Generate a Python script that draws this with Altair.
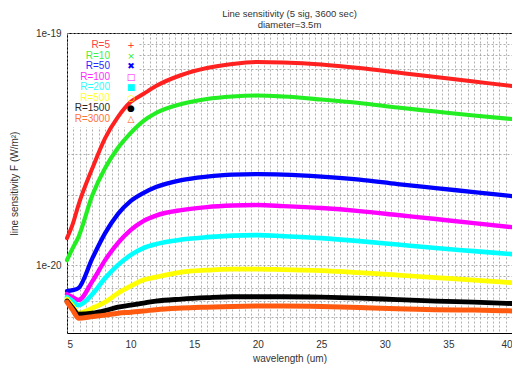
import altair as alt
import pandas as pd

# wavelength samples (um)
wl = [5, 5.45, 5.9, 7, 8, 9, 10, 11, 12, 14, 16, 18, 20, 22, 25, 28, 31, 34, 37, 40]

# line sensitivity, in units of 1e-20 W/m^2
r5 = [1.307, 1.502, 1.814, 2.619, 3.527, 4.344, 5.042, 5.459, 5.910, 6.592, 7.065, 7.351, 7.499, 7.462, 7.315, 7.065, 6.757, 6.461, 6.179, 5.910]
r10 = [1.051, 1.184, 1.320, 2.003, 2.619, 3.194, 3.706, 4.175, 4.520, 4.943, 5.194, 5.325, 5.378, 5.325, 5.169, 4.992, 4.774, 4.588, 4.410, 4.259]
r50 = [0.773, 0.780, 0.796, 1.072, 1.374, 1.659, 1.887, 2.043, 2.169, 2.325, 2.407, 2.455, 2.467, 2.455, 2.407, 2.336, 2.234, 2.147, 2.064, 1.983]
r100 = [0.750, 0.728, 0.707, 0.853, 1.051, 1.244, 1.415, 1.548, 1.635, 1.726, 1.778, 1.805, 1.814, 1.796, 1.761, 1.709, 1.643, 1.579, 1.517, 1.458]
r200 = [0.728, 0.700, 0.672, 0.750, 0.879, 1.000, 1.104, 1.184, 1.232, 1.288, 1.320, 1.340, 1.347, 1.333, 1.307, 1.269, 1.226, 1.184, 1.149, 1.115]
r500 = [0.714, 0.666, 0.621, 0.653, 0.693, 0.757, 0.812, 0.862, 0.888, 0.933, 0.951, 0.961, 0.961, 0.956, 0.947, 0.928, 0.906, 0.883, 0.862, 0.840]
r1500 = [0.700, 0.653, 0.615, 0.621, 0.637, 0.659, 0.672, 0.686, 0.700, 0.714, 0.724, 0.731, 0.731, 0.731, 0.728, 0.721, 0.710, 0.700, 0.693, 0.683]
r3000 = [0.693, 0.640, 0.591, 0.600, 0.609, 0.621, 0.627, 0.634, 0.643, 0.653, 0.659, 0.664, 0.666, 0.666, 0.663, 0.656, 0.649, 0.643, 0.640, 0.635]

series = ["R=5", "R=10", "R=50", "R=100", "R=200", "R=500", "R=1500", "R=3000"]
values = [r5, r10, r50, r100, r200, r500, r1500, r3000]
symbols = ["+", "\u00d7", "\u2716", "\u25a1", "\u25a0", "\u25cb", "\u25cf", "\u25b3"]

colors = ["#ff2020", "#22ee22", "#0000ff", "#ff00ff", "#00ffff", "#ffff00", "#000000", "#ff5a10"]
widths = [4, 5, 7, 6, 6, 6, 6, 5]

x_ticks = [5 + 0.5 * i for i in range(71)]
y_ticks = [6e-21, 7e-21, 8e-21, 9e-21, 1e-20, 2e-20, 3e-20, 4e-20, 5e-20,
           6e-20, 7e-20, 8e-20, 9e-20, 1e-19]

rows = []
for s, vals in zip(series, values):
    for w, v in zip(wl, vals):
        rows.append({"R": s, "wavelength": w, "F": v * 1e-20})
df = pd.DataFrame(rows)

leg = pd.DataFrame({"R": series, "sym": symbols, "i": list(range(len(series)))})

FONT = "Liberation Sans"
color_scale = alt.Scale(domain=series, range=colors)

lines = alt.Chart(df).mark_line(interpolate="monotone", strokeCap="round").encode(
    x=alt.X("wavelength:Q", scale=alt.Scale(domain=[5, 40], nice=False, zero=False),
            axis=alt.Axis(values=x_ticks, labelExpr="datum.value % 5 == 0 ? datum.value : ''",
                          title="wavelength (um)", ticks=False, labelPadding=6,
                          titlePadding=4, domain=False)),
    y=alt.Y("F:Q", scale=alt.Scale(type="log", domain=[5.1e-21, 1e-19], nice=False),
            axis=alt.Axis(values=y_ticks,
                          labelExpr="abs(log(datum.value)/LN10 + 20) < 0.01 ? '1e-20' : (abs(log(datum.value)/LN10 + 19) < 0.01 ? '1e-19' : '')",
                          title="line sensitivity F (W/m\u00b2)", ticks=False, labelPadding=6,
                          titlePadding=16, domain=False)),
    color=alt.Color("R:N", scale=color_scale, legend=None),
    size=alt.Size("R:N", scale=alt.Scale(domain=series, range=widths), legend=None),
    detail="R:N",
)

bg = alt.Chart(pd.DataFrame({"a": [0]})).mark_rect(fill="white").encode(
    x=alt.value(1), x2=alt.value(72), y=alt.value(1), y2=alt.value(94)
)

leg_text = alt.Chart(leg).transform_calculate(ly="12 + 10.5 * datum.i").mark_text(
    align="right", baseline="middle", font=FONT, fontSize=10, opacity=0.85
).encode(
    x=alt.value(43),
    y=alt.Y("ly:Q", scale=None, axis=None),
    text="R:N",
    color=alt.Color("R:N", scale=color_scale, legend=None),
)

leg_sym = alt.Chart(leg).transform_calculate(ly="12 + 10.5 * datum.i").mark_text(
    align="center", baseline="middle", font="DejaVu Sans", fontSize=9
).encode(
    x=alt.value(64),
    y=alt.Y("ly:Q", scale=None, axis=None),
    text="sym:N",
    color=alt.Color("R:N", scale=color_scale, legend=None),
)

chart = alt.layer(bg, lines, leg_text, leg_sym).resolve_scale(y="independent").properties(
    width=445,
    height=300,
    autosize=alt.AutoSizeParams(type="none"),
    padding={"left": 59, "top": 25, "right": 0, "bottom": 39},
    title=alt.TitleParams(
        text=["Line sensitivity (5 sig, 3600 sec)", "diameter=3.5m"],
        font=FONT, fontSize=9.5, fontWeight="normal", color="#333333",
        anchor="middle", lineHeight=10.5, offset=-1,
    ),
).configure_view(
    stroke="black", strokeWidth=1
).configure_axis(
    labelFont=FONT, titleFont=FONT, labelFontSize=10, titleFontSize=10,
    labelColor="#333333", titleColor="#333333", titleFontWeight="normal",
    gridColor="#9a9a9a", gridDash=[2, 2], gridWidth=0.8, gridOpacity=1,
)

chart.save("out.html", embed_options={"renderer": "svg", "actions": False})
